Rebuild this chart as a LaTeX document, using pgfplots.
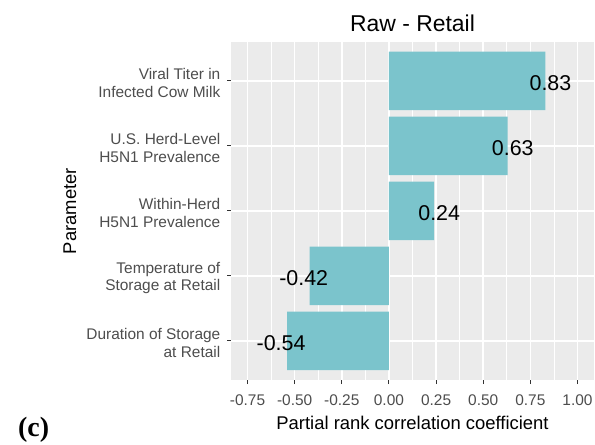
\documentclass[border=0pt]{standalone}
\usepackage{fontspec}
\setmainfont{Liberation Sans}
\newfontfamily\serifbold{Liberation Serif}
\usepackage{pgfplots}
\pgfplotsset{compat=1.18}
\definecolor{panelbg}{HTML}{EBEBEB}
\definecolor{barfill}{HTML}{7BC4CC}
\definecolor{ticktext}{HTML}{4D4D4D}
\definecolor{tickmark}{HTML}{333333}

\begin{document}
\begin{tikzpicture}
\path[use as bounding box] (0,0) rectangle (595bp,445bp);
\begin{axis}[
  at={(231bp,65bp)}, anchor=south west,
  scale only axis, width=363bp, height=338bp,
  xbar, bar width=0.9,
  xmin=-0.8375, xmax=1.0875, ymin=0.4, ymax=5.6,
  axis x line*=bottom, axis y line*=left,
  axis line style={draw=none},
  axis background/.style={fill=panelbg},
  xtick={-0.75,-0.5,-0.25,0,0.25,0.5,0.75,1},
  xticklabels={-0.75,-0.50,-0.25,0.00,0.25,0.50,0.75,1.00},
  minor xtick={-0.625,-0.375,-0.125,0.125,0.375,0.625,0.875},
  ytick={1,2,3,4,5},
  yticklabels={{Duration of Storage\\at Retail},{Temperature of\\Storage at Retail},{Within-Herd\\H5N1 Prevalence},{U.S. Herd-Level\\H5N1 Prevalence},{Viral Titer in\\Infected Cow Milk}},
  xmajorgrids, xminorgrids, ymajorgrids,
  major grid style={white, line width=1.6bp},
  minor grid style={white, line width=0.8bp},
  tick align=outside, major tick length=4bp, minor tick length=0pt,
  tick style={tickmark, line width=1bp},
  xticklabel style={font=\fontsize{15.5}{17.5}\selectfont, text=ticktext, inner sep=0pt, anchor=north, yshift=-11bp},
  yticklabel style={font=\fontsize{15.5}{17.5}\selectfont, text=ticktext, inner sep=0pt, anchor=east, align=right, xshift=-6.5bp, yshift=-2bp},
  xlabel={Partial rank correlation coefficient},
  ylabel={Parameter},
  x label style={at={(axis description cs:0.5,0)}, anchor=center, yshift=-43bp, font=\fontsize{18.5}{22}\selectfont},
  y label style={at={(axis description cs:0,0.5)}, anchor=center, yshift=161bp, font=\fontsize{18.5}{22}\selectfont},
  title={Raw - Retail},
  title style={at={(axis description cs:0.5,1)}, anchor=center, yshift=13bp, font=\fontsize{23}{27}\selectfont},
  point meta=explicit symbolic,
]
% negative coefficients
\addplot[fill=barfill, draw=none, bar shift=0pt,
  nodes near coords,
  nodes near coords style={anchor=center, font=\fontsize{21.5}{25}\selectfont, text=black, inner sep=0pt, xshift=-6bp, yshift=-2bp}]
  coordinates {
  (-0.54,1) [-0.54]
  (-0.42,2) [-0.42]
};
% positive coefficients
\addplot[fill=barfill, draw=none, bar shift=0pt,
  nodes near coords,
  nodes near coords style={anchor=center, font=\fontsize{21.5}{25}\selectfont, text=black, inner sep=0pt, xshift=5bp, yshift=-2bp}]
  coordinates {
  (0.24,3) [0.24]
  (0.63,4) [0.63]
  (0.83,5) [0.83]
};
\end{axis}
\node[anchor=base west, inner sep=0pt, font=\serifbold\bfseries\fontsize{28}{32}\selectfont] at (18bp,9bp) {(c)};
\end{tikzpicture}
\end{document}
